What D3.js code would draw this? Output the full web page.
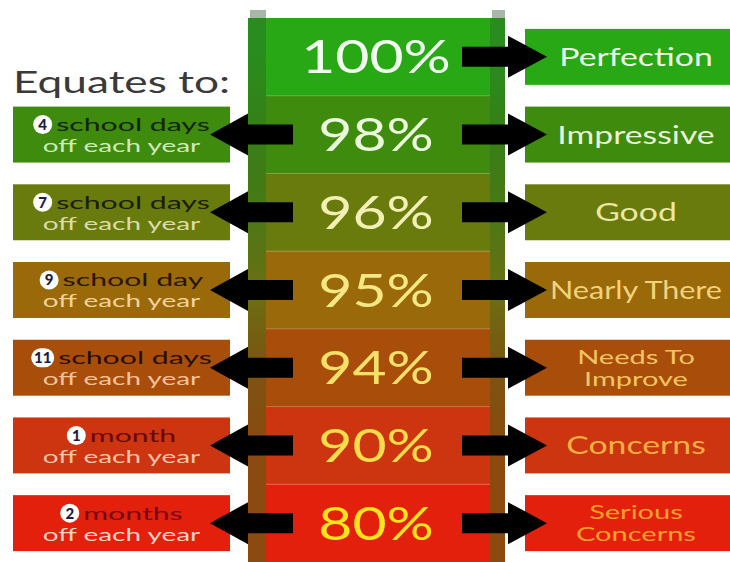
<!DOCTYPE html>
<html><head><meta charset="utf-8">
<script src="https://cdn.jsdelivr.net/npm/d3@7"></script>
<style>body{margin:0;background:#fff}svg{display:block}</style>
</head><body><svg id="c" width="730" height="562"></svg>
<script>
// ---- data ----
const percents = ["100%","98%","96%","95%","94%","90%","80%"];
const ratings = [["Perfection"],["Impressive"],["Good"],["Nearly There"],["Needs To","Improve"],["Concerns"],["Serious","Concerns"]];
const absenceNumbers = ["","4","7","9","11","1","2"];
const absenceUnits = ["","school days","school days","school day","school days","month","months"];
const absenceSuffix = ["","off each year","off each year","off each year","off each year","off each year","off each year"];
const heading = "Equates to:";
// ---- styles ----
const rowColors = ["#27a814","#3e8b0e","#687b0c","#9a690a","#a84e0a","#cc3510","#e3200b"];
const stripeColors = ["#2a8c1e","#357f16","#4a7816","#6a7012","#7c5410","#8a4a10","#8a4a10"];
const pctColors = ["#f2fff0","#ecf8dc","#f2f0b4","#f4e884","#f6e06a","#f8dc48","#ffe41c"];
const ratingColors = ["#eef8e8","#eaf4d8","#ece8a4","#f2d27a","#f2c462","#f8b040","#ffa02a"];
const unitColors = ["","#142400","#1c1c00","#2a1600","#2a0e00","#6a0800","#780812"];
const suffixColors = ["","#cfeab8","#dcdca8","#f2d29a","#f4c29a","#fac4aa","#ffd2c4"];

const svg = d3.select("#c");
const W = 730, H = 562;
const font = "Lato, 'Open Sans', sans-serif";
const colL = 248, colR = 505, colTop = 18;

const y = d3.scaleBand().domain(percents).range([colTop, H]).paddingInner(0);
const bw = y.bandwidth();
const cy = p => y(p) + bw/2;
const boxH = bw*0.72;

function stretch(sel, k, maxW){
  sel.each(function(){
    let w = this.getComputedTextLength()*k;
    if (maxW && w > maxW) w = maxW;
    d3.select(this).attr("textLength", w).attr("lengthAdjust","spacingAndGlyphs");
  });
}

const defs = svg.append("defs");
const grad = defs.append("linearGradient").attr("id","stripe")
  .attr("gradientUnits","userSpaceOnUse").attr("x1",0).attr("x2",0).attr("y1",colTop).attr("y2",H);
percents.forEach((p,i)=>{
  grad.append("stop").attr("offset",(cy(p)-colTop)/(H-colTop)).attr("stop-color",stripeColors[i]);
});

// column rows
svg.selectAll("rect.row").data(percents).join("rect").attr("class","row")
  .attr("x",colL).attr("width",colR-colL).attr("y",d=>y(d)).attr("height",bw+0.5)
  .attr("fill",(d,i)=>rowColors[i]);
// separators
svg.selectAll("line.sep").data(percents.slice(1)).join("line").attr("class","sep")
  .attr("x1",colL).attr("x2",colR).attr("y1",d=>y(d)).attr("y2",d=>y(d))
  .attr("stroke","#fff").attr("stroke-opacity",0.25).attr("stroke-width",1);
// stripes
[[colL,18],[490,15]].forEach(([x,w])=>{
  svg.append("rect").attr("x",x).attr("y",colTop).attr("width",w).attr("height",H-colTop).attr("fill","url(#stripe)");
  svg.append("rect").attr("x",x+2).attr("y",10).attr("width",w-2).attr("height",colTop-10).attr("fill","#a8b8a8");
});

// left boxes
const leftData = percents.map((p,i)=>({p,i})).filter(d=>absenceNumbers[d.i]!=="");
svg.selectAll("rect.lbox").data(leftData).join("rect").attr("class","lbox")
  .attr("x",13).attr("width",217).attr("y",d=>cy(d.p)-boxH/2).attr("height",boxH)
  .attr("fill",d=>rowColors[d.i]);
// right boxes
svg.selectAll("rect.rbox").data(percents).join("rect").attr("class","rbox")
  .attr("x",525).attr("width",210).attr("y",d=>cy(d)-boxH/2).attr("height",boxH)
  .attr("fill",(d,i)=>rowColors[i]);

// arrows
const ah = 21, sh = 10;
svg.selectAll("path.larrow").data(leftData).join("path").attr("class","larrow")
  .attr("d",d=>{const c=cy(d.p);return `M210,${c} L248,${c-ah} L248,${c-sh} L293,${c-sh} L293,${c+sh} L248,${c+sh} L248,${c+ah} Z`;})
  .attr("fill","#000");
svg.selectAll("path.rarrow").data(percents).join("path").attr("class","rarrow")
  .attr("d",d=>{const c=cy(d);return `M547,${c} L508,${c-ah} L508,${c-sh} L462,${c-sh} L462,${c+sh} L508,${c+sh} L508,${c+ah} Z`;})
  .attr("fill","#000");

// percentage labels
svg.selectAll("text.pct").data(percents).join("text").attr("class","pct")
  .attr("x",376).attr("y",d=>cy(d)).attr("dy","0.36em").attr("text-anchor","middle")
  .attr("font-family",font).attr("font-size",46).attr("font-weight",400).attr("fill",(d,i)=>pctColors[i])
  .text(d=>d).call(stretch,1.28);

// rating labels
percents.forEach((p,i)=>{
  const lines = ratings[i];
  const fs = lines.length>1 ? 20 : 25;
  const lh = 22;
  lines.forEach((t,j)=>{
    svg.append("text").attr("x",636).attr("y",cy(p)+(j-(lines.length-1)/2)*lh).attr("dy","0.36em")
      .attr("text-anchor","middle").attr("font-family",font).attr("font-size",fs).attr("font-weight",400)
      .attr("fill",ratingColors[i]).text(t).call(stretch,lines.length>1?1.45:1.35,172);
  });
});

// heading
svg.append("text").attr("x",13).attr("y",93).attr("font-family",font).attr("font-size",30).attr("font-weight",400)
  .attr("fill","#3a3a3a").text(heading).call(stretch,1.5,217);

// left texts
leftData.forEach(d=>{
  const i=d.i, c=cy(d.p);
  const g = svg.append("g");
  const r = 9.5, gap = 4, ly = c-10;
  const t = g.append("text").attr("y",ly).attr("dy","0.36em").attr("font-family",font).attr("font-size",18)
    .attr("font-weight",400).attr("fill",unitColors[i]).text(absenceUnits[i]).call(stretch,1.68);
  const tw = +t.attr("textLength");
  const circW = absenceNumbers[i].length>1 ? 2*r+4 : 2*r;
  const total = circW + gap + tw;
  const x0 = 121.5 - total/2;
  if(absenceNumbers[i].length>1){
    g.append("rect").attr("x",x0).attr("y",ly-r).attr("width",circW).attr("height",2*r).attr("rx",r).attr("fill","#fff");
  } else {
    g.append("circle").attr("cx",x0+r).attr("cy",ly).attr("r",r).attr("fill","#fff");
  }
  g.append("text").attr("x",x0+circW/2).attr("y",ly).attr("dy","0.36em").attr("text-anchor","middle")
    .attr("font-family",font).attr("font-size",15).attr("font-weight",900).attr("fill","#1e1e3a").text(absenceNumbers[i]);
  t.attr("x",x0+circW+gap);
  svg.append("text").attr("x",121.5).attr("y",c+11).attr("dy","0.36em").attr("text-anchor","middle")
    .attr("font-family",font).attr("font-size",18).attr("font-weight",400).attr("fill",suffixColors[i]).text(absenceSuffix[i]).call(stretch,1.55,164);
});
</script></body></html>
